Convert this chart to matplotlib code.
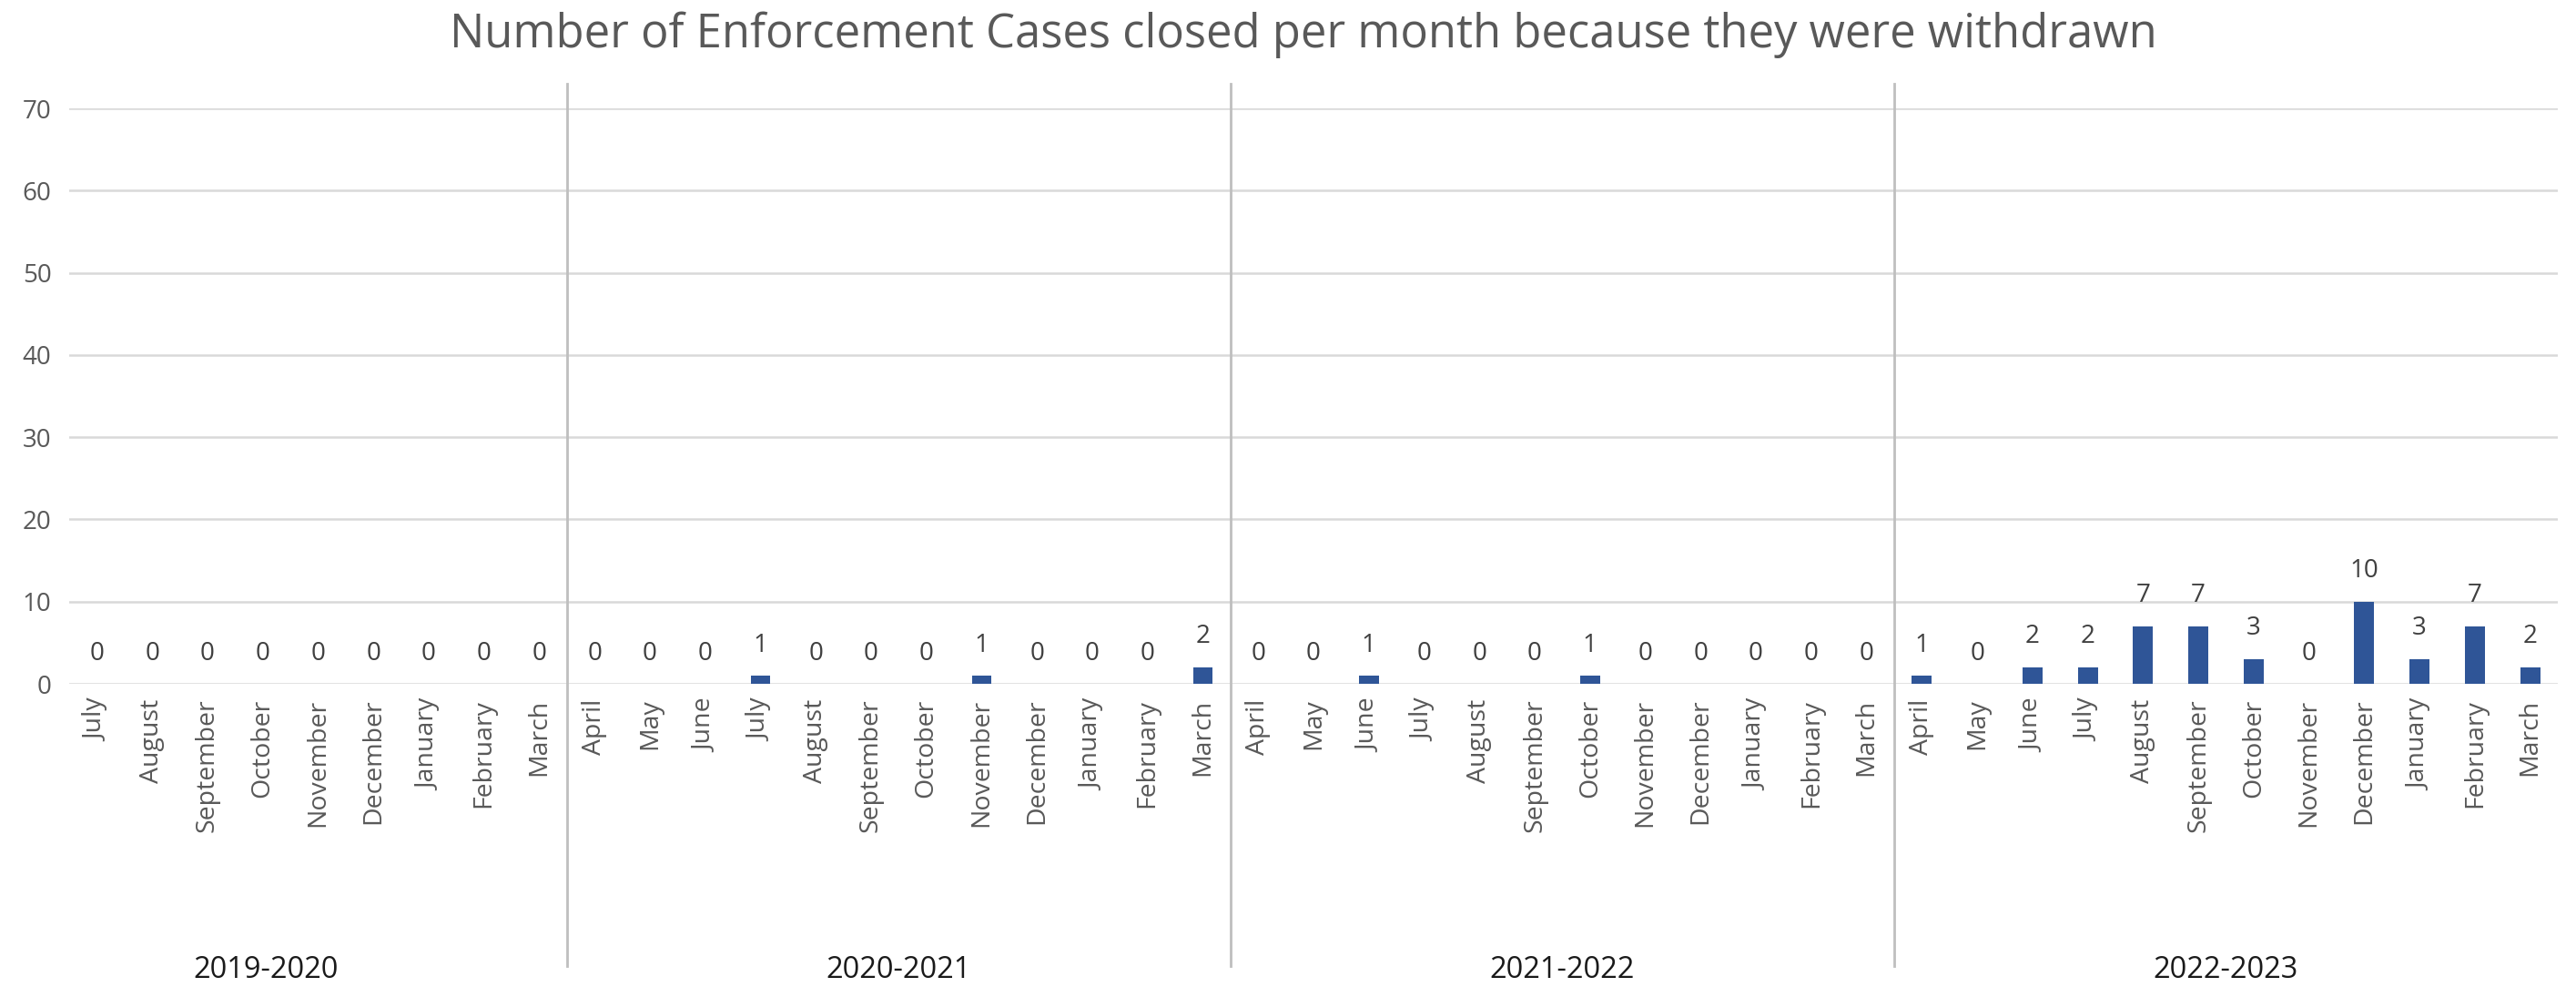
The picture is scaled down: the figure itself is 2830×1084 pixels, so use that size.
import matplotlib.pyplot as plt
from matplotlib.lines import Line2D

# data
years = ["2019-2020", "2020-2021", "2021-2022", "2022-2023"]
months_1920 = ["July", "August", "September", "October", "November", "December",
               "January", "February", "March"]
months_full = ["April", "May", "June", "July", "August", "September", "October",
               "November", "December", "January", "February", "March"]
withdrawn_1920 = [0, 0, 0, 0, 0, 0, 0, 0, 0]
withdrawn_2021 = [0, 0, 0, 1, 0, 0, 0, 1, 0, 0, 0, 2]
withdrawn_2122 = [0, 0, 1, 0, 0, 0, 1, 0, 0, 0, 0, 0]
withdrawn_2223 = [1, 0, 2, 2, 7, 7, 3, 0, 10, 3, 7, 2]

title = "Number of Enforcement Cases closed per month because they were withdrawn"

plt.rcParams['font.family'] = ['Open Sans', 'DejaVu Sans']

group_months = [months_1920, months_full, months_full, months_full]
group_values = [withdrawn_1920, withdrawn_2021, withdrawn_2122, withdrawn_2223]

labels = [m for g in group_months for m in g]
values = [v for g in group_values for v in g]
x = list(range(len(values)))

fig = plt.figure(figsize=(28.3, 10.84), dpi=100)
ax = fig.add_axes([76 / 2830, 1 - 751 / 1084, (2810 - 76) / 2830, (751 - 119) / 1084])

# gridlines
ax.set_ylim(0, 70)
ax.set_xlim(-0.5, len(values) - 0.5)
ax.set_yticks(range(0, 71, 10))
ax.yaxis.grid(True, color='#D9D9D9', lw=1.8)
ax.set_axisbelow(True)
for s in ax.spines.values():
    s.set_visible(False)

bars = ax.bar(x, values, width=0.36, color='#2F5597', zorder=3)

# data labels
for xi, v in zip(x, values):
    ax.annotate(str(v), (xi, v), xytext=(0, 14), textcoords='offset points',
                ha='center', va='bottom', fontsize=20, color='#404040')

ax.set_xticks(x)
ax.set_xticklabels(labels, rotation=90, ha='center', va='top')
ax.tick_params(axis='x', length=0, pad=12, labelsize=20.5, labelcolor='#595959')
ax.tick_params(axis='y', length=0, pad=14, labelsize=20, labelcolor='#595959')

# year group separators and labels
start = 0
for i, (yr, g) in enumerate(zip(years, group_months)):
    end = start + len(g)
    xc = (start + end - 1) / 2
    if i == 0:
        # first label sits a little left of its group centre in the original
        xc = 3.06
    ax.text(xc, -0.497, yr, transform=ax.get_xaxis_transform(),
            ha='center', va='center', fontsize=23.5, color='#1a1a1a')
    if i < len(years) - 1:
        ax.add_line(Line2D([end - 0.5, end - 0.5], [1.043, -0.49],
                           transform=ax.get_xaxis_transform(), color='#BFBFBF',
                           lw=2, clip_on=False))
    start = end

fig.text(0.506, 1 - 38 / 1084, title, ha='center', va='center',
         fontsize=36.5, color='#595959')

fig.savefig('out.png', dpi=100)
